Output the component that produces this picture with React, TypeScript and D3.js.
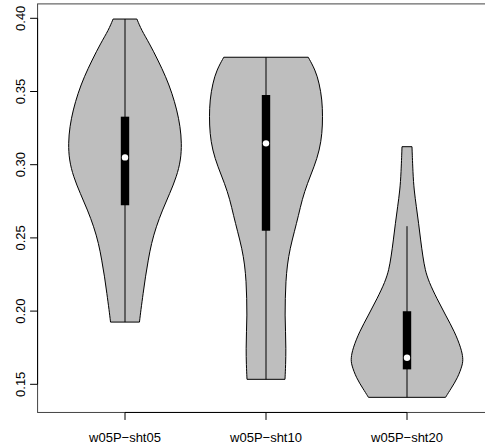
import React from "react";
import * as d3 from "d3";

// Group names along the x axis
const categories = ["w05P\u2212sht05", "w05P\u2212sht10", "w05P\u2212sht20"];

// Y tick values
const yTicks = [0.15, 0.2, 0.25, 0.3, 0.35, 0.4];

// Summary statistics per group: [min, lower whisker, q1, median, q3, upper whisker, max]
const statsSht05 = [0.1925, 0.1925, 0.2723, 0.3050, 0.3328, 0.3995, 0.3995];
const statsSht10 = [0.1534, 0.1534, 0.2549, 0.3146, 0.3476, 0.3734, 0.3734];
const statsSht20 = [0.1411, 0.1411, 0.1602, 0.1681, 0.1999, 0.2580, 0.3123];

// Kernel density profiles: [value, density relative to the group's peak]
const densitySht05: [number, number][] = [
  [0.3995, 0.21], [0.392, 0.29], [0.3829, 0.43], [0.3715, 0.58], [0.3601, 0.72],
  [0.3488, 0.83], [0.3374, 0.915], [0.326, 0.975], [0.3146, 1.0], [0.3032, 0.985],
  [0.2918, 0.91], [0.2804, 0.79], [0.269, 0.66], [0.2576, 0.55], [0.2462, 0.465],
  [0.2348, 0.41], [0.2234, 0.36], [0.212, 0.32], [0.2006, 0.28], [0.1925, 0.255],
];
const densitySht10: [number, number][] = [
  [0.3734, 0.745], [0.3647, 0.87], [0.3556, 0.94], [0.3442, 0.99], [0.3328, 1.0],
  [0.3214, 0.99], [0.31, 0.945], [0.2986, 0.85], [0.2873, 0.73], [0.2759, 0.635],
  [0.2656, 0.575], [0.2542, 0.5], [0.2429, 0.425], [0.2315, 0.375], [0.2201, 0.35],
  [0.2087, 0.34], [0.1973, 0.335], [0.1859, 0.345], [0.1746, 0.352], [0.1632, 0.347],
  [0.1534, 0.335],
];
const densitySht20: [number, number][] = [
  [0.3123, 0.088], [0.2941, 0.105], [0.2827, 0.125], [0.2713, 0.165], [0.26, 0.205],
  [0.2486, 0.24], [0.2372, 0.28], [0.2281, 0.32], [0.2201, 0.385], [0.2087, 0.525],
  [0.1973, 0.68], [0.1859, 0.84], [0.1746, 0.955], [0.1678, 0.99], [0.1632, 0.98],
  [0.1541, 0.89], [0.1473, 0.78], [0.1411, 0.68],
];

const groups = [
  { name: categories[0], stats: statsSht05, density: densitySht05 },
  { name: categories[1], stats: statsSht10, density: densitySht10 },
  { name: categories[2], stats: statsSht20, density: densitySht20 },
];

const W = 485;
const H = 445;
const FONT = "'Liberation Sans', Arial, Helvetica, sans-serif";

export default function App() {
  // x: group index 1..n, with R-style 4% padding around [0.5, n + 0.5]
  const x = d3.scaleLinear().domain([0.5, 3.5]).range([54.5, 477.5]);
  const y = d3.scaleLinear().domain([0.15, 0.4]).range([384.3, 18.3]);

  const allVals = groups.flatMap((g) => [g.stats[0], g.stats[6]]);
  const [lo, hi] = d3.extent(allVals) as [number, number];
  const pad = (hi - lo) * 0.04;
  const xPad = 3 * 0.04;
  const box = {
    left: x(0.5 - xPad),
    right: x(3.5 + xPad),
    top: y(hi + pad),
    bottom: y(lo - pad),
  };

  const halfMax = 0.402; // max violin half-width, in group units
  const boxHalf = 4.2;

  return (
    <svg
      width={W}
      height={H}
      style={{ position: "absolute", left: 0, top: 0, background: "#fff" }}
    >
      {groups.map((g, i) => {
        const cx = i + 1;
        const area = d3
          .area<[number, number]>()
          .y((d) => y(d[0]))
          .x0((d) => x(cx - d[1] * halfMax))
          .x1((d) => x(cx + d[1] * halfMax))
          .curve(d3.curveBasis);
        const [, wLo, q1, med, q3, wHi] = g.stats;
        return (
          <g key={g.name}>
            <path
              d={area(g.density) ?? ""}
              fill="#bebebe"
              stroke="#000"
              strokeWidth={1}
            />
            <line
              x1={x(cx)}
              x2={x(cx)}
              y1={y(wLo)}
              y2={y(wHi)}
              stroke="#000"
              strokeWidth={1}
            />
            <rect
              x={x(cx) - boxHalf}
              width={boxHalf * 2}
              y={y(q3)}
              height={y(q1) - y(q3)}
              fill="#000"
            />
            <circle cx={x(cx)} cy={y(med)} r={3.2} fill="#fff" />
          </g>
        );
      })}

      {/* plot frame */}
      <rect
        x={box.left}
        y={box.top}
        width={box.right - box.left}
        height={box.bottom - box.top}
        fill="none"
        stroke="#444"
        strokeWidth={1}
      />

      {/* y axis */}
      <line
        x1={box.left}
        x2={box.left}
        y1={y(yTicks[0])}
        y2={y(yTicks[yTicks.length - 1])}
        stroke="#000"
      />
      {yTicks.map((t) => (
        <g key={t}>
          <line
            x1={box.left - 7.5}
            x2={box.left}
            y1={y(t)}
            y2={y(t)}
            stroke="#000"
          />
          <text
            transform={`translate(${24.5},${y(t)}) rotate(-90)`}
            textAnchor="middle"
            fontFamily={FONT}
            fontSize={13}
            fill="#000"
          >
            {t.toFixed(2)}
          </text>
        </g>
      ))}

      {/* x axis */}
      <line
        x1={x(1)}
        x2={x(3)}
        y1={box.bottom}
        y2={box.bottom}
        stroke="#000"
      />
      {categories.map((c, i) => (
        <g key={c}>
          <line
            x1={x(i + 1)}
            x2={x(i + 1)}
            y1={box.bottom}
            y2={box.bottom + 7.5}
            stroke="#000"
          />
          <text
            x={x(i + 1)}
            y={442}
            textAnchor="middle"
            fontFamily={FONT}
            fontSize={13}
            fill="#000"
          >
            {c}
          </text>
        </g>
      ))}
    </svg>
  );
}
